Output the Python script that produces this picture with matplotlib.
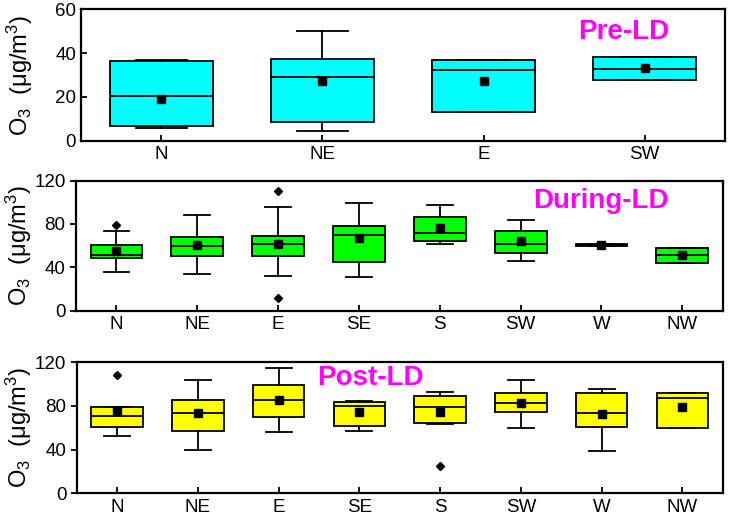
import matplotlib
matplotlib.use("Agg")
import matplotlib.pyplot as plt

plt.rcParams['font.family'] = ['Liberation Sans', 'DejaVu Sans']
plt.rcParams['mathtext.fontset'] = 'custom'
plt.rcParams['mathtext.rm'] = 'Liberation Sans'
plt.rcParams['mathtext.it'] = 'Liberation Sans:italic'

# ---------------- data ----------------
pre_cats = ['N', 'NE', 'E', 'SW']
pre_q1 = [6.6, 8.6, 13.2, 27.6]
pre_med = [20.2, 29.0, 32.2, 32.9]
pre_q3 = [36.6, 37.2, 36.9, 38.3]
pre_lo = [6.0, 4.5, 13.2, 27.6]
pre_hi = [36.8, 49.9, 36.9, 38.3]
pre_mean = [19.2, 27.2, 27.4, 33.1]
pre_fliers = [[], [], [], []]

dur_cats = ['N', 'NE', 'E', 'SE', 'S', 'SW', 'W', 'NW']
dur_q1 = [48.9, 50.4, 50.4, 44.6, 64.5, 53.2, 59.3, 43.7]
dur_med = [51.3, 59.9, 61.5, 70.0, 71.9, 61.8, 60.3, 51.0]
dur_q3 = [60.6, 68.2, 68.8, 78.0, 86.7, 73.2, 61.3, 57.8]
dur_lo = [35.4, 33.8, 32.3, 30.8, 61.8, 45.5, 59.3, 43.7]
dur_hi = [73.2, 87.9, 95.9, 99.5, 97.7, 83.6, 61.3, 57.8]
dur_mean = [55.0, 60.6, 61.8, 66.7, 75.9, 64.5, 60.5, 51.0]
dur_fliers = [[78.7], [], [110.3, 12.0], [], [], [], [], []]

post_cats = ['N', 'NE', 'E', 'SE', 'S', 'SW', 'W', 'NW']
post_q1 = [60.9, 57.2, 69.7, 61.5, 64.0, 74.3, 60.9, 59.4]
post_med = [70.7, 73.7, 85.3, 79.8, 78.6, 82.3, 74.0, 87.7]
post_q3 = [79.2, 85.3, 99.3, 83.2, 89.2, 91.7, 92.0, 92.0]
post_lo = [52.4, 39.9, 56.0, 56.9, 63.3, 59.7, 38.9, 59.4]
post_hi = [79.2, 103.6, 114.8, 84.4, 93.2, 103.8, 95.1, 92.0]
post_mean = [75.5, 73.1, 85.9, 74.6, 74.6, 82.5, 72.2, 79.5]
post_fliers = [[108.4], [], [], [], [24.7], [], [], []]

panels = [
    dict(cats=pre_cats, q1=pre_q1, med=pre_med, q3=pre_q3, lo=pre_lo, hi=pre_hi,
         mean=pre_mean, fliers=pre_fliers, color='#00FFFF', ylim=(0, 60),
         yticks=[0, 20, 40, 60], title='Pre-LD', tx=0.772, ty=0.83,
         rect=[0.1108, 0.7273, 0.881, 0.2547], ydir='in', lx=-0.072),
    dict(cats=dur_cats, q1=dur_q1, med=dur_med, q3=dur_q3, lo=dur_lo, hi=dur_hi,
         mean=dur_mean, fliers=dur_fliers, color='#00FF00', ylim=(0, 120),
         yticks=[0, 40, 80, 120], title='During-LD', tx=0.707, ty=0.84,
         rect=[0.104, 0.3979, 0.8847, 0.252], ydir='out', lx=-0.065),
    dict(cats=post_cats, q1=post_q1, med=post_med, q3=post_q3, lo=post_lo, hi=post_hi,
         mean=post_mean, fliers=post_fliers, color='#FFFF00', ylim=(0, 120),
         yticks=[0, 40, 80, 120], title='Post-LD', tx=0.372, ty=0.878,
         rect=[0.105, 0.044, 0.8837, 0.2539], ydir='out', lx=-0.066),
]

fig = plt.figure(figsize=(7.31, 5.16), dpi=100)

for p in panels:
    ax = fig.add_axes(p['rect'])
    n = len(p['cats'])
    stats = []
    for i in range(n):
        stats.append(dict(q1=p['q1'][i], med=p['med'][i], q3=p['q3'][i],
                          whislo=p['lo'][i], whishi=p['hi'][i],
                          mean=p['mean'][i], fliers=p['fliers'][i]))
    pos = list(range(1, n + 1))
    ax.bxp(stats, positions=pos, widths=0.64, patch_artist=True,
           showmeans=True, showfliers=True,
           boxprops=dict(facecolor=p['color'], edgecolor='black', linewidth=1.3),
           medianprops=dict(color='black', linewidth=1.3),
           whiskerprops=dict(color='black', linewidth=1.3),
           capprops=dict(color='black', linewidth=1.3),
           capwidths=0.32,
           meanprops=dict(marker='s', markerfacecolor='black', markeredgecolor='black',
                          markersize=6),
           flierprops=dict(marker='D', markerfacecolor='black', markeredgecolor='black',
                           markersize=4))
    ax.set_xlim(0.5, n + 0.5)
    ax.set_ylim(*p['ylim'])
    ax.set_yticks(p['yticks'])
    ax.set_xticks(pos)
    ax.set_xticklabels(p['cats'])
    ax.tick_params(axis='x', direction='in', length=4, width=1.3, labelsize=13.5, pad=4)
    ax.tick_params(axis='y', direction=p['ydir'], length=4, width=1.3, labelsize=13.5)
    for s in ax.spines.values():
        s.set_linewidth(1.6)
    ax.set_ylabel(r'O$_3$  (μg/m$^3$)', fontsize=17)
    ax.yaxis.set_label_coords(p['lx'], 0.5)
    ax.text(p['tx'], p['ty'], p['title'], transform=ax.transAxes, color='#FF00FF',
            fontsize=20, fontweight='bold', ha='left', va='center')

fig.savefig('out.png', dpi=100)
